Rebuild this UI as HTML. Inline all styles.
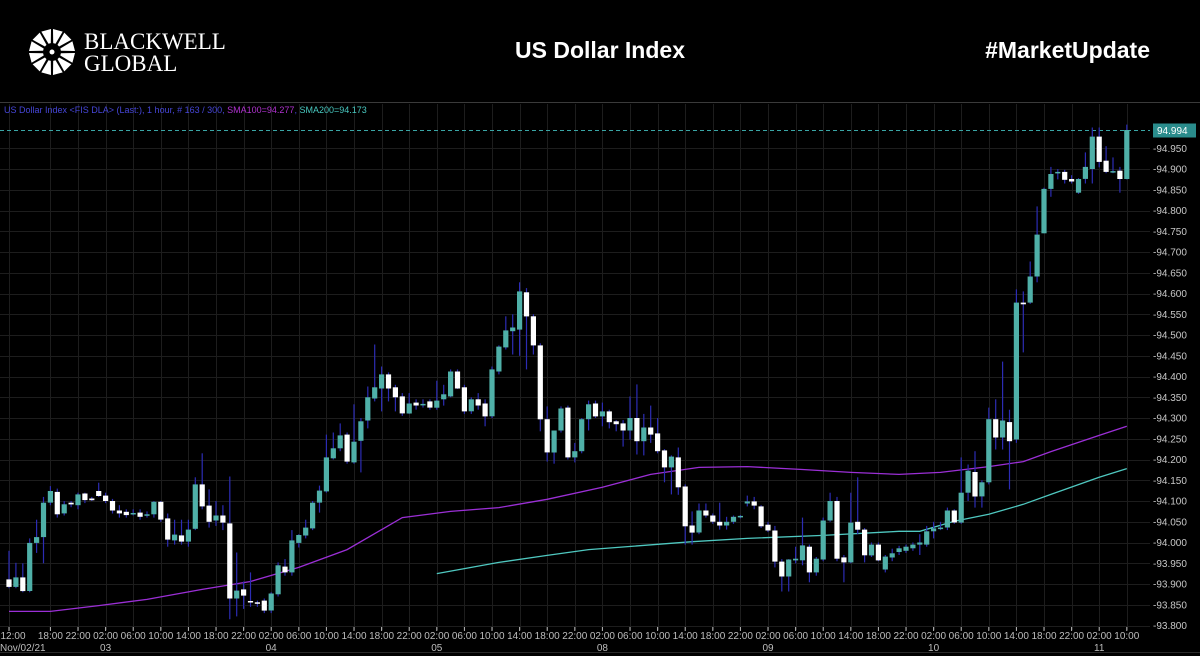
<!DOCTYPE html>
<html><head><meta charset="utf-8">
<style>
html,body{margin:0;padding:0;background:#000;width:1200px;height:656px;overflow:hidden}
svg{display:block}
</style></head>
<body>
<svg id="chart" width="1200" height="656" viewBox="0 0 1200 656" xmlns="http://www.w3.org/2000/svg">
  <rect x="0" y="0" width="1200" height="656" fill="#000"/>
  <g id="logo"></g>
  <text x="84" y="49" font-family="Liberation Serif, serif" font-size="23" fill="#fff">BLACKWELL</text>
  <text x="84" y="71" font-family="Liberation Serif, serif" font-size="23" fill="#fff">GLOBAL</text>
  <text x="600" y="58" text-anchor="middle" font-family="Liberation Sans, sans-serif" font-size="23" font-weight="bold" fill="#fff">US Dollar Index</text>
  <text x="1150" y="58" text-anchor="end" font-family="Liberation Sans, sans-serif" font-size="23" font-weight="bold" fill="#fff">#MarketUpdate</text>
  <line x1="0" y1="102.5" x2="1200" y2="102.5" stroke="#3a3a3a" stroke-width="1"/>
  <g id="grid"></g>
  <text x="4" y="113" font-family="Liberation Sans, sans-serif" font-size="9"><tspan fill="#4646d8">US Dollar Index &lt;FIS DLA&gt; (Last:), 1 hour, # 163 / 300, </tspan><tspan fill="#b032d0">SMA100=94.277</tspan><tspan fill="#4646d8">, </tspan><tspan fill="#48c8c0">SMA200=94.173</tspan></text>
  <g id="smas"></g>
  <g id="candles"></g>
  <g id="yaxis"></g>
  <g id="xaxis"></g>
  <line x1="0" y1="652.5" x2="1200" y2="652.5" stroke="#2a2a2a"/>
</svg>
<script>
const opens=[93.911,93.893,93.916,93.883,93.999,94.013,94.096,94.122,94.070,94.096,94.090,94.118,94.106,94.124,94.113,94.100,94.077,94.074,94.068,94.072,94.065,94.068,94.098,94.058,94.005,94.017,94.002,94.033,94.140,94.089,94.053,94.065,94.046,93.865,93.887,93.859,93.856,93.860,93.836,93.875,93.942,93.928,93.999,94.017,94.034,94.096,94.123,94.203,94.227,94.260,94.193,94.245,94.294,94.347,94.371,94.405,94.374,94.352,94.311,94.337,94.331,94.340,94.325,94.345,94.352,94.412,94.374,94.316,94.345,94.335,94.304,94.412,94.470,94.509,94.513,94.603,94.545,94.475,94.297,94.217,94.270,94.325,94.205,94.220,94.297,94.335,94.304,94.316,94.292,94.287,94.270,94.300,94.244,94.277,94.263,94.222,94.181,94.205,94.135,94.041,94.024,94.077,94.065,94.050,94.041,94.050,94.062,94.094,94.099,94.087,94.043,94.029,93.954,93.918,93.957,93.957,93.990,93.928,93.959,94.053,94.100,93.964,93.952,94.050,94.031,93.969,93.995,93.935,93.964,93.977,93.980,93.986,93.995,93.995,94.027,94.034,94.036,94.077,94.048,94.120,94.170,94.111,94.145,94.297,94.253,94.290,94.248,94.578,94.578,94.641,94.745,94.852,94.891,94.893,94.876,94.843,94.876,94.900,94.978,94.920,94.893,94.896,94.876];
const highs=[93.980,93.951,93.950,94.010,94.055,94.110,94.136,94.130,94.100,94.100,94.120,94.120,94.110,94.144,94.120,94.105,94.090,94.080,94.080,94.080,94.075,94.100,94.100,94.070,94.055,94.055,94.055,94.157,94.215,94.128,94.100,94.090,94.159,93.976,93.906,93.928,93.860,93.865,93.880,93.952,93.960,94.030,94.020,94.055,94.100,94.137,94.260,94.265,94.287,94.265,94.333,94.300,94.376,94.477,94.424,94.410,94.380,94.360,94.360,94.345,94.345,94.345,94.390,94.380,94.417,94.417,94.380,94.350,94.360,94.345,94.424,94.475,94.545,94.550,94.627,94.613,94.550,94.480,94.328,94.270,94.328,94.330,94.240,94.300,94.342,94.342,94.337,94.320,94.295,94.295,94.352,94.381,94.310,94.330,94.300,94.225,94.210,94.229,94.140,94.075,94.094,94.094,94.070,94.096,94.062,94.065,94.066,94.113,94.110,94.090,94.050,94.040,93.960,93.960,93.990,94.060,93.995,93.965,94.060,94.120,94.110,93.970,94.120,94.157,94.035,94.000,94.000,93.970,93.985,93.992,93.995,94.000,94.020,94.040,94.050,94.050,94.084,94.080,94.205,94.188,94.220,94.150,94.325,94.345,94.436,94.320,94.610,94.605,94.677,94.810,94.855,94.905,94.900,94.898,94.885,94.878,94.940,95.000,95.000,94.955,94.928,94.905,95.007];
const lows=[93.890,93.890,93.880,93.880,93.975,93.950,94.090,94.060,94.065,94.085,94.080,94.095,94.100,94.110,94.095,94.070,94.060,94.060,94.065,94.055,94.060,94.060,94.050,93.990,93.995,93.995,93.990,94.030,94.080,94.036,94.040,94.030,93.815,93.822,93.840,93.845,93.845,93.830,93.830,93.870,93.920,93.920,93.988,94.010,94.030,94.072,94.120,94.200,94.220,94.190,94.190,94.169,94.275,94.340,94.316,94.340,94.316,94.305,94.310,94.320,94.325,94.320,94.320,94.330,94.350,94.370,94.310,94.310,94.320,94.280,94.300,94.405,94.465,94.453,94.450,94.417,94.453,94.268,94.195,94.190,94.265,94.200,94.193,94.215,94.270,94.300,94.280,94.275,94.268,94.231,94.248,94.212,94.210,94.240,94.215,94.145,94.116,94.115,93.995,93.995,94.020,94.060,94.045,94.031,94.031,94.045,94.058,94.087,94.080,94.035,94.025,93.940,93.882,93.882,93.950,93.945,93.904,93.920,93.955,94.050,93.955,93.904,93.950,94.020,93.952,93.965,93.955,93.928,93.955,93.970,93.975,93.980,93.970,93.990,94.010,94.030,94.030,94.045,94.045,94.100,94.084,94.084,94.140,94.224,94.224,94.128,94.240,94.458,94.575,94.627,94.745,94.833,94.875,94.865,94.865,94.840,94.865,94.865,94.904,94.890,94.890,94.843,94.875];
const closes=[93.893,93.916,93.883,93.999,94.013,94.096,94.124,94.068,94.092,94.092,94.116,94.102,94.102,94.112,94.100,94.077,94.070,94.066,94.071,94.062,94.068,94.098,94.055,94.007,94.019,94.002,94.031,94.140,94.087,94.050,94.065,94.048,93.865,93.884,93.872,93.856,93.853,93.836,93.877,93.945,93.928,94.005,94.018,94.036,94.096,94.125,94.205,94.227,94.258,94.195,94.243,94.292,94.350,94.374,94.405,94.371,94.350,94.311,94.335,94.330,94.334,94.325,94.342,94.357,94.412,94.371,94.316,94.345,94.330,94.304,94.417,94.472,94.511,94.518,94.605,94.545,94.475,94.297,94.217,94.270,94.323,94.205,94.220,94.297,94.333,94.304,94.316,94.290,94.285,94.270,94.300,94.244,94.277,94.260,94.220,94.181,94.207,94.133,94.039,94.024,94.077,94.065,94.050,94.041,94.050,94.062,94.064,94.099,94.089,94.039,94.029,93.954,93.918,93.959,93.961,93.993,93.928,93.961,94.053,94.100,93.961,93.952,94.048,94.031,93.969,93.995,93.957,93.966,93.974,93.986,93.990,93.995,94.000,94.027,94.034,94.036,94.077,94.048,94.120,94.173,94.111,94.145,94.297,94.253,94.294,94.244,94.578,94.574,94.641,94.742,94.852,94.888,94.893,94.874,94.870,94.876,94.905,94.978,94.917,94.893,94.895,94.876,94.994];
const sma100Idx=[0,6,13,20,28,35,42,49,57,64,71,78,86,93,100,107,115,122,129,135,142,147,151,158,162];
const sma100Val=[93.834,93.834,93.848,93.863,93.887,93.906,93.940,93.983,94.060,94.075,94.084,94.104,94.133,94.164,94.181,94.183,94.176,94.169,94.164,94.169,94.183,94.195,94.219,94.258,94.280];
const sma200Idx=[62,71,78,84,99,107,118,129,132,137,142,147,151,158,162];
const sma200Val=[93.925,93.952,93.969,93.983,94.002,94.010,94.017,94.027,94.027,94.051,94.068,94.092,94.116,94.157,94.178];
const priceTicks=[94.950,94.900,94.850,94.800,94.750,94.700,94.650,94.600,94.550,94.500,94.450,94.400,94.350,94.300,94.250,94.200,94.150,94.100,94.050,94.000,93.950,93.900,93.850,93.800];
const lastPrice=94.994;
const hourTickIdx=[0,6,10,14,18,22,26,30,34,38,42,46,50,54,58,62,66,70,74,78,82,86,90,94,98,102,106,110,114,118,122,126,130,134,138,142,146,150,154,158,162];
const hourTickLabels=["12:00","18:00","22:00","02:00","06:00","10:00","14:00","18:00","22:00","02:00","06:00","10:00","14:00","18:00","22:00","02:00","06:00","10:00","14:00","18:00","22:00","02:00","06:00","10:00","14:00","18:00","22:00","02:00","06:00","10:00","14:00","18:00","22:00","02:00","06:00","10:00","14:00","18:00","22:00","02:00","06:00","10:00"].slice(0,41);
const dayTickIdx=[14,38,62,86,110,134,158];
const dayTickLabels=["03","04","05","08","09","10","11"];

const NS="http://www.w3.org/2000/svg";
const X0=9, DX=6.9, PLOT_R=1150, PLOT_T=104, PLOT_B=630;
function xScale(i){return X0+DX*i;}
function yScale(v){return 169+(94.9-v)/0.05*20.75;}
function mk(tag,attrs,parent){const e=document.createElementNS(NS,tag);for(const k in attrs)e.setAttribute(k,attrs[k]);parent.appendChild(e);return e;}

// fix hour labels: 10:00 at last
hourTickLabels[40]="10:00";

// logo
const logo=document.getElementById('logo');
for(let k=0;k<12;k++){
  const a=k*Math.PI/6+Math.PI/12;
  const r1=9,r2=23,w=0.22;
  const p=[[Math.cos(a-w*0.6)*r1,Math.sin(a-w*0.6)*r1],[Math.cos(a-w)*r2,Math.sin(a-w)*r2],[Math.cos(a+w)*r2,Math.sin(a+w)*r2],[Math.cos(a+w*0.6)*r1,Math.sin(a+w*0.6)*r1]];
  const poly=mk('polygon',{points:p.map(q=>(52+q[0]).toFixed(1)+','+(52+q[1]).toFixed(1)).join(' '),fill:'#fff'},logo);
  
  
}
const dot=mk('circle',{cx:52,cy:52,r:2.5,fill:'#fff'},logo);



// grid
const grid=document.getElementById('grid');
priceTicks.forEach(v=>{
  const y=Math.round(yScale(v))+0.5;
  const l=mk('line',{x1:0,x2:PLOT_R,y1:y,y2:y,stroke:'#1d1d1d','stroke-width':1},grid);
  
  
});
hourTickIdx.forEach(i=>{
  const x=Math.round(xScale(i))+0.5;
  const l=mk('line',{x1:x,x2:x,y1:PLOT_T,y2:PLOT_B,stroke:'#1d1d1d','stroke-width':1},grid);
  
  
});
const ly=Math.round(yScale(lastPrice))+0.5;
const dl=mk('line',{x1:0,x2:PLOT_R,y1:ly,y2:ly,stroke:'#3aa6a6','stroke-width':1,'stroke-dasharray':'4,3'},grid);



// SMAs
const smas=document.getElementById('smas');
function smaPath(idx,val,color,name){
  const d=idx.map((i,k)=>(k?'L':'M')+xScale(i).toFixed(1)+','+yScale(val[k]).toFixed(1)).join(' ');
  const p=mk('path',{d:d,fill:'none',stroke:color,'stroke-width':1.3},smas);
  
  
}
smaPath(sma100Idx,sma100Val,'#9b2fd6','sma100-line');
smaPath(sma200Idx,sma200Val,'#4fc8c0','sma200-line');

// candles
const cg=document.getElementById('candles');
for(let i=0;i<opens.length;i++){
  const x=xScale(i);
  const up=closes[i]>=opens[i];
  const w=mk('line',{x1:x.toFixed(1),x2:x.toFixed(1),y1:yScale(highs[i]).toFixed(1),y2:yScale(lows[i]).toFixed(1),stroke:'#2c2cb4','stroke-width':1.2},cg);
  
  
  const yt=yScale(Math.max(opens[i],closes[i])), yb=yScale(Math.min(opens[i],closes[i]));
  const b=mk('rect',{x:(x-2.6).toFixed(1),y:yt.toFixed(1),width:5.2,height:Math.max(1.5,yb-yt).toFixed(1),fill:up?'#4fb0a8':'#ffffff'},cg);
  
  
}

// y axis
const ya=document.getElementById('yaxis');
priceTicks.forEach(v=>{
  const y=yScale(v);
  const t=mk('text',{x:1153,y:(y+3.5).toFixed(1),'font-family':'Liberation Sans, sans-serif','font-size':10,fill:'#c8c8c8'},ya);
  t.textContent='-'+v.toFixed(3);
  
  
});
const box=mk('rect',{x:1153,y:(ly-7).toFixed(1),width:43,height:14,fill:'#2a8c8c'},ya);


const lt=mk('text',{x:1157,y:(ly+3.5).toFixed(1),'font-family':'Liberation Sans, sans-serif','font-size':10,fill:'#ffffff'},ya);
lt.textContent=lastPrice.toFixed(3);



// x axis
const xa=document.getElementById('xaxis');
hourTickIdx.forEach((i,k)=>{
  const x=xScale(i);
  const tk=mk('line',{x1:x,x2:x,y1:627,y2:631,stroke:'#bbb','stroke-width':1},xa);
  
  
  const t=mk('text',{x:Math.max(13,x).toFixed(1),y:639,'text-anchor':'middle','font-family':'Liberation Sans, sans-serif','font-size':10,fill:'#bdbdbd'},xa);
  t.textContent=hourTickLabels[k];
  
  
});
const d0=mk('text',{x:0,y:651,'font-family':'Liberation Sans, sans-serif','font-size':10,fill:'#bdbdbd'},xa);
d0.textContent='Nov/02/21';


dayTickIdx.forEach((i,k)=>{
  const t=mk('text',{x:xScale(i).toFixed(1),y:651,'text-anchor':'middle','font-family':'Liberation Sans, sans-serif','font-size':10,fill:'#bdbdbd'},xa);
  t.textContent=dayTickLabels[k];
  
  
});
</script>
</body></html>
